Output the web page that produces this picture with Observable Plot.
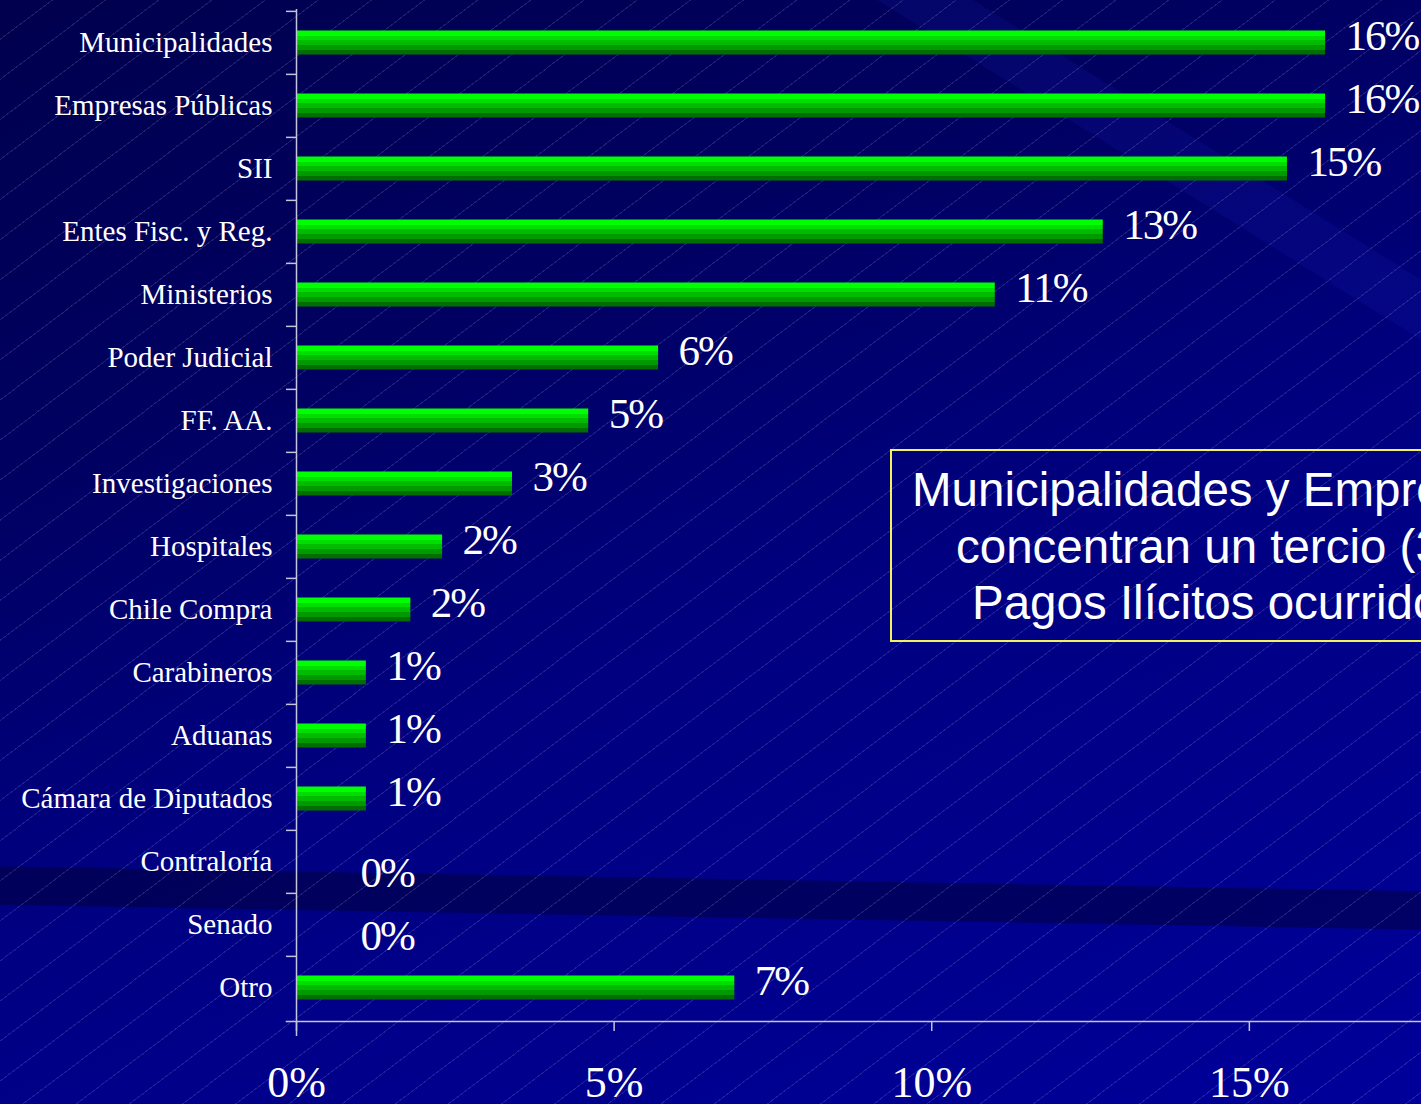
<!DOCTYPE html>
<html>
<head>
<meta charset="utf-8">
<script src="https://cdn.jsdelivr.net/npm/d3@7"></script>
<script src="https://cdn.jsdelivr.net/npm/@observablehq/plot@0.6"></script>
<style>
  html, body { margin: 0; padding: 0; }
  body {
    width: 1421px; height: 1104px; overflow: hidden; position: relative;
    background:
      repeating-linear-gradient(143deg, rgba(255,255,255,0) 0px, rgba(255,255,255,0) 31px, rgba(220,220,255,0.14) 31px, rgba(220,220,255,0.14) 32px),
      linear-gradient(181deg, rgba(0,0,0,0) 78.9%, rgba(0,0,45,0.45) 79%, rgba(0,0,45,0.45) 82.3%, rgba(0,0,0,0) 82.4%),
      linear-gradient(212deg, rgba(0,0,0,0) 14%, rgba(30,40,190,0.14) 14.1%, rgba(30,40,190,0.14) 17%, rgba(0,0,0,0) 17.1%),
      linear-gradient(160deg, #00004e 0%, #000062 30%, #000080 55%, #00009a 100%);
  }
  #chart { position: absolute; left: 0; top: 0; }
  #note {
    position: absolute; left: 890px; top: 449px; width: 900px; height: 189px;
    border: 2px solid #f2f25a; box-sizing: content-box;
    font-family: "Liberation Sans", Arial, sans-serif; font-size: 47.5px; color: white;
    white-space: nowrap;
  }
  #note div { position: absolute; line-height: 56px; }
</style>
</head>
<body>
<div id="chart"></div>
<div id="note">
  <div style="left:20px; top:11px;">Municipalidades y Empresas Públicas</div>
  <div style="left:64px; top:68px;">concentran un tercio (32%) de los</div>
  <div style="left:80px; top:124px;">Pagos Ilícitos ocurridos</div>
</div>
<script>
const categories = [
  "Municipalidades", "Empresas Públicas", "SII", "Entes Fisc. y Reg.", "Ministerios",
  "Poder Judicial", "FF. AA.", "Investigaciones", "Hospitales", "Chile Compra",
  "Carabineros", "Aduanas", "Cámara de Diputados", "Contraloría", "Senado", "Otro"
];
const values = [16.2, 16.2, 15.6, 12.7, 11.0, 5.7, 4.6, 3.4, 2.3, 1.8, 1.1, 1.1, 1.1, 0, 0, 6.9];
const valueLabels = ["16%", "16%", "15%", "13%", "11%", "6%", "5%", "3%", "2%", "2%", "1%", "1%", "1%", "0%", "0%", "7%"];
const xTicks = [0, 5, 10, 15];

const data = categories.map((c, i) => ({category: c, value: values[i], label: valueLabels[i]}));

const serif = "'Liberation Serif', 'Times New Roman', serif";
const axisColor = "#c4c4dc";
const H = 1104, mTop = 9, mBottom = 83;
const step = (H - mTop - mBottom) / categories.length;

const chart = Plot.plot({
  width: 1421,
  height: H,
  marginLeft: 296,
  marginRight: 0,
  marginTop: mTop,
  marginBottom: mBottom,
  style: {background: "transparent", color: "white", fontFamily: serif, overflow: "visible"},
  x: {domain: [0, 17.71]},
  y: {domain: categories, padding: 0},
  marks: [
    Plot.barX(data, {x: "value", y: "category", fill: "url(#barGrad)", insetTop: 19.5, insetBottom: 19.5}),
    Plot.ruleX([0], {stroke: axisColor, strokeWidth: 1.5, insetBottom: -15}),
    Plot.frame({anchor: "bottom", stroke: axisColor, strokeWidth: 1.5, insetLeft: -10}),
    Plot.axisY({tickSize: 10, dy: -step / 2, fill: "none", stroke: axisColor, strokeWidth: 1.5, label: null}),
    Plot.axisY({tickSize: 0, tickPadding: 24, fontSize: 29, fontFamily: serif, fill: "white", label: null, style: {letterSpacing: "2.5px"}}),
    Plot.axisX({ticks: xTicks, tickSize: 10, tickPadding: 34, fontSize: 44, fontFamily: serif, stroke: axisColor, strokeWidth: 1.5, fill: "white", tickFormat: d => d + "%", label: null}),
    Plot.text(data.filter(d => d.value > 0), {x: "value", y: "category", text: "label", textAnchor: "start", dx: 20, dy: -7, fontSize: 43, fontFamily: serif, fill: "white"}),
    Plot.text(data.filter(d => d.value === 0), {x: "value", y: "category", text: "label", textAnchor: "start", dx: 64, dy: 11, fontSize: 43, fontFamily: serif, fill: "white"})
  ]
});

chart.querySelectorAll("text").forEach(t => { if (/^\d+%$/.test(t.textContent) && t.closest("g[aria-label='text']")) t.style.letterSpacing = "-2px"; });

const ns = "http://www.w3.org/2000/svg";
const defs = document.createElementNS(ns, "defs");
const grad = document.createElementNS(ns, "linearGradient");
grad.setAttribute("id", "barGrad");
grad.setAttribute("x1", "0"); grad.setAttribute("y1", "0");
grad.setAttribute("x2", "0"); grad.setAttribute("y2", "1");
const bands = [["#00ff00", 0, 0.22], ["#00dd00", 0.22, 0.39], ["#00bb00", 0.39, 0.6], ["#009a00", 0.6, 0.8], ["#006e00", 0.8, 1]];
for (const [c, a, b] of bands) {
  for (const o of [a, b]) {
    const s = document.createElementNS(ns, "stop");
    s.setAttribute("offset", o);
    s.setAttribute("stop-color", c);
    grad.appendChild(s);
  }
}
defs.appendChild(grad);
chart.insertBefore(defs, chart.firstChild);
document.getElementById("chart").appendChild(chart);
</script>
</body>
</html>
